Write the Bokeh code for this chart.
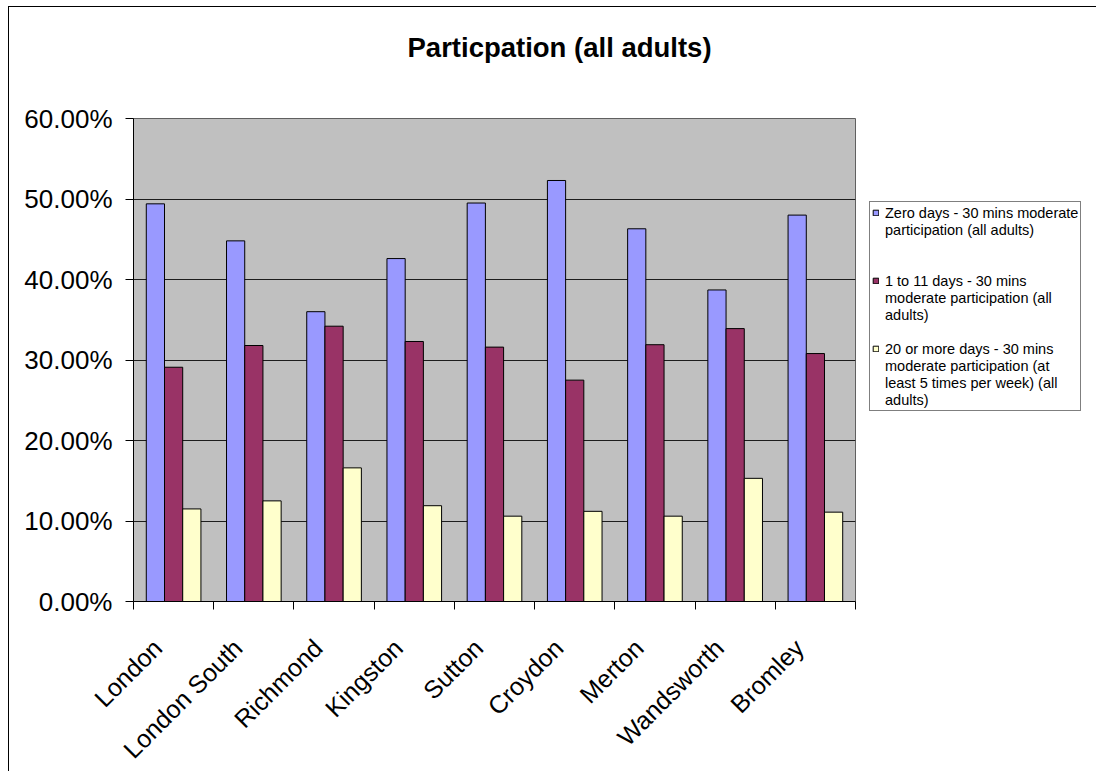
import math
from bokeh.plotting import figure
from bokeh.models import Legend, LegendItem, FixedTicker, NumeralTickFormatter, Range1d, Title
from bokeh.embed import file_html
from bokeh.resources import INLINE

categories = ["London", "London South", "Richmond", "Kingston", "Sutton",
              "Croydon", "Merton", "Wandsworth", "Bromley"]
zero_days = [0.494, 0.448, 0.360, 0.426, 0.495, 0.523, 0.463, 0.387, 0.480]
one_to_11_days = [0.291, 0.318, 0.342, 0.323, 0.316, 0.275, 0.319, 0.339, 0.308]
twenty_plus_days = [0.115, 0.125, 0.166, 0.119, 0.106, 0.112, 0.106, 0.153, 0.111]
# legend text, one list of lines per series (blank rows keep Excel's spacing)
series_label_lines = [
    ["Zero days - 30 mins moderate", "participation (all adults)", " ", " "],
    ["1 to 11 days - 30 mins", "moderate participation (all", "adults)", " "],
    ["20 or more days - 30 mins", "moderate participation (at",
     "least 5 times per week) (all", "adults)"],
]
series_colors = ["#9999FF", "#993366", "#FFFFCC"]
y_ticks = [0.0, 0.1, 0.2, 0.3, 0.4, 0.5, 0.6]
title_text = "Particpation (all adults)"

FONT = "Liberation Sans"

p = figure(frame_width=722, frame_height=483, output_backend="svg", toolbar_location=None,
           x_range=Range1d(0, len(categories)), y_range=Range1d(0, 0.6),
           min_border_left=124, min_border_right=20, min_border_top=111,
           min_border_bottom=170,
           background_fill_color="#C0C0C0", border_fill_color="white",
           outline_line_color="#606060",
           styles={"margin-left": "8px", "margin-top": "6px",
                   "border-left": "1px solid black", "border-top": "1px solid black"})

p.title.text = title_text
p.title.text_font = FONT
p.title.text_font_size = "27.5px"
p.title.text_font_style = "bold"
p.title.text_color = "black"
p.title.align = "left"
p.title.offset = 274
p.title.standoff = 10

# empty spacer between the title and the plot area
spacer = Title(text=" ", text_font_size="10px", standoff=38)
p.add_layout(spacer, "above")

series = [zero_days, one_to_11_days, twenty_plus_days]
offsets = [-0.227, 0.0, 0.227]
renderers = []
for vals, col, off in zip(series, series_colors, offsets):
    xs = [i + 0.5 + off for i in range(len(categories))]
    r = p.vbar(x=xs, top=vals, bottom=0, width=0.227, fill_color=col,
               line_color="black", line_width=1)
    renderers.append(r)

# invisible renderer used for continuation lines of the legend
blank = p.vbar(x=[], top=[], bottom=0, width=0.1, fill_alpha=0, line_alpha=0)

# y axis
yax = p.yaxis[0]
yax.ticker = FixedTicker(ticks=y_ticks, minor_ticks=[])
yax.formatter = NumeralTickFormatter(format="0.00%")
yax.major_tick_out = 8
yax.major_tick_in = 0
yax.major_label_standoff = 13
yax.major_label_text_font = FONT
yax.major_label_text_font_size = "26px"
yax.major_label_text_color = "black"
yax.axis_line_color = "black"
yax.major_tick_line_color = "black"

# x axis: labels slightly left of the category centre, ticks at the boundaries
label_pos = [i + 0.3 for i in range(len(categories))]
xax = p.xaxis[0]
xax.ticker = FixedTicker(ticks=label_pos, minor_ticks=list(range(len(categories) + 1)))
xax.major_label_overrides = {c: name for c, name in zip(label_pos, categories)}
xax.major_tick_line_color = None
xax.major_tick_out = 0
xax.major_tick_in = 0
xax.minor_tick_out = 8
xax.minor_tick_in = 0
xax.minor_tick_line_color = "black"
xax.axis_line_color = "black"
xax.major_label_orientation = math.pi / 4
xax.major_label_standoff = 34
xax.major_label_text_font = FONT
xax.major_label_text_font_size = "25px"
xax.major_label_text_color = "black"

p.xgrid.grid_line_color = None
p.ygrid.ticker = FixedTicker(ticks=y_ticks, minor_ticks=[])
p.ygrid.grid_line_color = "black"
p.ygrid.grid_line_alpha = 0.85

items = []
for lines, r in zip(series_label_lines, renderers):
    items.append(LegendItem(label=lines[0], renderers=[r]))
    for ln in lines[1:]:
        items.append(LegendItem(label=ln, renderers=[blank]))

legend = Legend(
    items=items,
    location=(14, 190),
    label_text_font=FONT, label_text_font_size="14.5px", label_text_color="black",
    label_height=17, label_text_baseline="middle",
    glyph_width=7, glyph_height=7, label_standoff=6, spacing=0,
    padding=2, margin=0,
    border_line_color="black", border_line_width=1,
    background_fill_color="white", background_fill_alpha=1.0,
)
p.add_layout(legend, "right")

open("out.html", "w").write(file_html(p, INLINE))
